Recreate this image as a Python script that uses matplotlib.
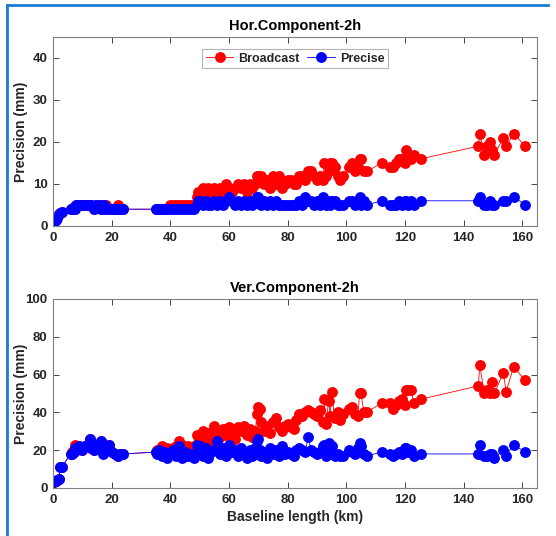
import numpy as np
import matplotlib
matplotlib.use("Agg")
import matplotlib.pyplot as plt
from matplotlib.lines import Line2D

plt.rcParams['font.family'] = ['Liberation Sans', 'DejaVu Sans']
plt.rcParams['font.weight'] = 'bold'

# baseline lengths (km)
baseline = [0.5, 1.0, 1.5, 2.0, 2.5, 3.0,
            6.0, 6.5, 7.0, 7.5, 8.0, 9.0, 10.0, 11.0, 12.0, 12.5, 13.0, 14.0, 14.5, 15.0,
            16.0, 16.5, 17.0, 17.5, 18.0, 19.0, 20.0, 21.0, 22.0, 23.0, 24.0,
            35.0, 35.5, 36, 37, 38, 39, 40, 41, 42, 43, 44, 45, 46, 47, 48,
            49, 49.5, 50, 51, 52, 53, 54, 55, 56, 57, 58, 59, 60, 61, 62, 63, 64, 65, 66, 67,
            68, 69, 69.5, 70, 70.5, 71, 72, 73, 74, 75, 76, 77, 78, 79, 80,
            81, 82, 83, 84, 85, 86, 87, 88, 89, 90, 91, 92, 92.5, 93, 94, 94.5, 95, 96, 97, 98,
            99, 101, 102, 103, 104, 104.5, 105, 106, 107, 112, 115, 116, 117, 118, 119, 120,
            120.5, 121, 122, 123, 125.5,
            145, 145.5, 147, 148, 149, 149.5, 150.5, 153.5, 154.5, 157, 161]

hor_broadcast = [1, 1.5, 2, 2.8, 3.2, 3.3,
                 4, 4, 4.5, 4, 5, 5, 5, 5, 5, 5, 5, 4, 5, 4.5,
                 5, 4, 5, 5, 5, 4, 4, 4, 5, 4, 4,
                 4, 4, 4, 4, 4, 4, 5, 5, 5, 5, 5, 5, 5, 5, 5,
                 7, 8, 8, 9, 8, 9, 8, 9, 8, 9, 8, 10, 9, 8, 9, 10, 9, 10, 8, 10,
                 9, 10, 12, 12, 11, 12, 10, 11, 9, 12, 10, 12, 9, 10, 11,
                 11, 10, 10, 12, 12, 11, 13, 13, 12, 11, 12, 11, 15, 12, 13, 15, 15, 14, 12, 11,
                 12, 14, 15, 13, 14, 16, 16, 13, 13, 15, 14, 14, 15, 16, 16, 15,
                 18, 17, 16, 17, 16,
                 19, 22, 17, 19, 20, 18, 17, 21, 19, 22, 19]

hor_precise = [1, 1.5, 2, 2.8, 3.2, 3.3,
               4, 4, 4.5, 4, 5, 5, 5, 5, 5, 5, 5, 4, 5, 4.5,
               5, 4, 4, 5, 4, 4, 4, 4, 4, 4, 4,
               4, 4, 4, 4, 4, 4, 4, 4, 4, 4, 4, 4, 4, 4, 4,
               5, 6, 6, 5, 6, 5, 5, 6, 5, 6, 5, 6, 7, 6, 5, 6, 5, 6, 5, 6,
               5, 6, 7, 7, 6, 5, 6, 5, 6, 5, 6, 5, 5, 5, 5,
               5, 5, 5, 6, 5, 7, 6, 6, 5, 6, 5, 7, 6, 5, 6, 5, 6, 6, 5, 5,
               5, 6, 6, 5, 6, 7, 5, 6, 5, 6, 5, 5, 5, 6, 5, 6,
               6, 5, 6, 5, 6,
               6, 7, 5, 5, 6, 5, 5, 6, 6, 7, 5]

ver_broadcast = [3, 3.5, 4, 4.5, 11, 11,
                 18, 19, 19, 23, 20, 22, 20, 22, 23, 26, 21, 20, 22, 21,
                 22, 25, 22, 20, 22, 23, 19, 18, 17, 18, 18,
                 19, 20, 19, 22, 20, 21, 19, 21, 22, 25, 23, 21, 22, 20, 22,
                 28, 24, 27, 30, 26, 29, 25, 33, 29, 27, 31, 28, 32, 29, 26, 32, 30, 33, 28, 31,
                 27, 30, 39, 43, 42, 35, 30, 33, 29, 35, 37, 32, 30, 33, 34,
                 32, 31, 36, 39, 38, 40, 41, 40, 39, 38, 41, 35, 47, 34, 46, 38, 51, 37, 40, 36,
                 39, 42, 43, 39, 38, 50, 50, 40, 40, 45, 45, 42, 44, 46, 47, 44,
                 52, 52, 52, 45, 47,
                 54, 65, 50, 52, 50, 56, 50, 61, 51, 64, 57]

ver_precise = [3, 3.5, 4, 4.5, 11, 11,
               18, 18, 19, 21, 20, 22, 20, 22, 23, 26, 21, 20, 22, 21,
               22, 25, 18, 20, 22, 23, 19, 18, 17, 18, 18,
               19, 18, 20, 17, 19, 16, 18, 20, 17, 22, 16, 19, 17, 18, 16,
               23, 18, 22, 17, 21, 16, 19, 20, 25, 18, 21, 17, 23, 19, 20, 17, 21, 18, 16, 20,
               17, 21, 25, 26, 20, 17, 19, 16, 21, 18, 20, 17, 22, 18, 19,
               18, 17, 20, 21, 20, 19, 27, 20, 19, 18, 19, 22, 23, 17, 24, 20, 22, 17, 18, 17,
               17, 20, 19, 18, 21, 24, 22, 18, 17, 19, 18, 17, 18, 19, 18, 21,
               21, 19, 20, 17, 18,
               18, 23, 17, 17, 18, 18, 16, 20, 17, 23, 19]

txt = '#262626'
fig = plt.figure(figsize=(5.56, 5.36), dpi=100)

ax1 = fig.add_axes([0.0953, 0.5784, 0.8705, 0.3526])
ax2 = fig.add_axes([0.0953, 0.0896, 0.8705, 0.3526])

for ax, b, p, ymax, title in [(ax1, hor_broadcast, hor_precise, 45, 'Hor.Component-2h'),
                              (ax2, ver_broadcast, ver_precise, 100, 'Ver.Component-2h')]:
    ax.plot(baseline, b, '-o', color='red', lw=0.6, ms=6.8, mec='red', label='Broadcast')
    ax.plot(baseline, p, '-o', color='blue', lw=0.6, ms=6.8, mec='blue', label='Precise')
    ax.set_xlim(0, 165)
    ax.set_ylim(0, ymax)
    ax.set_xticks(np.arange(0, 161, 20))
    ax.set_yticks(np.arange(0, ymax + 1, 10 if ymax == 45 else 20))
    ax.tick_params(direction='in', top=True, right=True, length=4, width=0.6,
                   labelsize=9.5, colors=txt, pad=4)
    for lab in ax.get_xticklabels() + ax.get_yticklabels():
        lab.set_fontweight('bold')
    for s in ax.spines.values():
        s.set_color('#808080')
        s.set_linewidth(0.8)
    ax.set_title(title, fontsize=10.5, fontweight='bold', pad=5)
    ax.set_ylabel('Precision (mm)', fontsize=10, fontweight='bold', color=txt)
    ax.yaxis.set_label_coords(-0.052, 0.5)

ax2.set_xlabel('Baseline length (km)', fontsize=10, fontweight='bold', color=txt, labelpad=3)

leg = ax1.legend(loc='upper center', bbox_to_anchor=(0.5, 0.97), ncol=2, fontsize=9,
                 frameon=True, fancybox=False, edgecolor='#a0a0a0', handlelength=2.2,
                 columnspacing=0.6, handletextpad=0.4, borderpad=0.3)
leg.get_frame().set_linewidth(0.8)
for t in leg.get_texts():
    t.set_fontweight('bold')
    t.set_color(txt)

# window border
fig.add_artist(Line2D([0.012, 0.012], [0.0, 0.99], color='#1a7bd0', lw=2))
fig.add_artist(Line2D([0.012, 0.986], [0.99, 0.99], color='#1a7bd0', lw=2))

fig.savefig('out.png', dpi=100)
